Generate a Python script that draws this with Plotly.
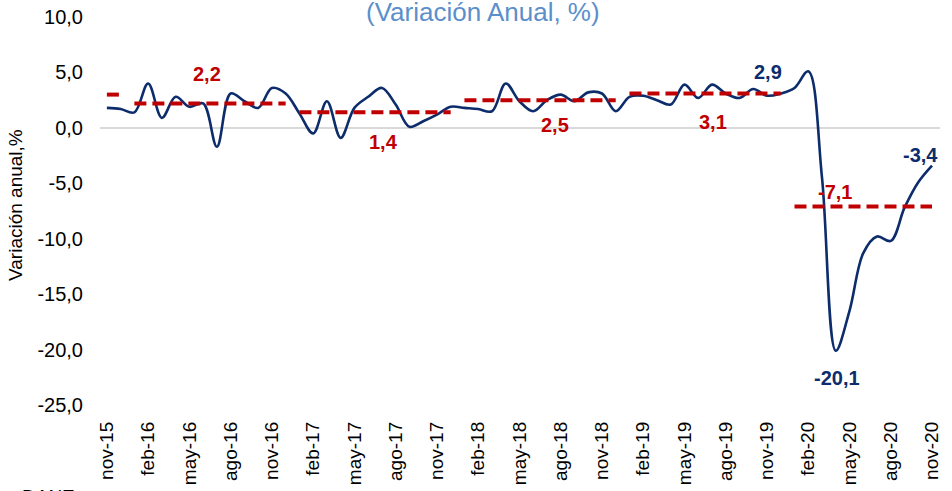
import plotly.graph_objects as go

months = ["nov-15", "dic-15",
          "ene-16", "feb-16", "mar-16", "abr-16", "may-16", "jun-16", "jul-16", "ago-16", "sep-16", "oct-16", "nov-16", "dic-16",
          "ene-17", "feb-17", "mar-17", "abr-17", "may-17", "jun-17", "jul-17", "ago-17", "sep-17", "oct-17", "nov-17", "dic-17",
          "ene-18", "feb-18", "mar-18", "abr-18", "may-18", "jun-18", "jul-18", "ago-18", "sep-18", "oct-18", "nov-18", "dic-18",
          "ene-19", "feb-19", "mar-19", "abr-19", "may-19", "jun-19", "jul-19", "ago-19", "sep-19", "oct-19", "nov-19", "dic-19",
          "ene-20", "feb-20", "mar-20", "abr-20", "may-20", "jun-20", "jul-20", "ago-20", "sep-20", "oct-20", "nov-20"]

variacion = [1.8, 1.7,
             1.4, 4.0, 0.9, 2.8, 1.9, 2.2, -1.7, 3.1, 2.4, 1.8, 3.6, 3.1,
             1.3, -0.5, 2.4, -0.9, 1.8, 2.8, 3.6, 2.1, 0.1, 0.6, 1.2, 1.9,
             1.8, 1.7, 1.5, 4.0, 2.4, 1.5, 2.5, 3.0, 2.4, 3.2, 3.1, 1.5,
             2.8, 2.9, 2.5, 2.1, 3.9, 2.7, 3.9, 3.1, 2.7, 3.5, 2.9, 3.1,
             3.6, 5.1, -4.5, -20.1, -16.5, -11.3, -9.8, -10.2, -7.2, -4.9, -3.4]

# annual averages: (start month, end month, value)
prom_inicio = ["nov-15", "ene-16", "ene-17", "ene-18", "ene-19", "ene-20"]
prom_fin = ["dic-15", "dic-16", "dic-17", "dic-18", "dic-19", "nov-20"]
prom_valor = [3.0, 2.2, 1.4, 2.5, 3.1, -7.1]

tick_labels = months[::3]
y_tick_vals = [-25, -20, -15, -10, -5, 0, 5, 10]
y_tick_text = ["-25,0", "-20,0", "-15,0", "-10,0", "-5,0", "0,0", "5,0", "10,0"]

BLUE = "#0C2C6B"
RED = "#C00000"
FONT = "Liberation Sans, Arial, sans-serif"

fig = go.Figure()

fig.add_trace(go.Scatter(x=months, y=variacion, mode="lines",
                         line=dict(color=BLUE, width=2.6, shape="spline", smoothing=1.0),
                         showlegend=False))

for s, e, v in zip(prom_inicio, prom_fin, prom_valor):
    fig.add_trace(go.Scatter(x=[s, e], y=[v, v], mode="lines",
                             line=dict(color=RED, width=4, dash="12px,6px"),
                             showlegend=False, hoverinfo="skip"))

# red average labels
red_pos = {"2,2": (7.3, 4.87), "1,4": (20.1, -1.24), "2,5": (32.6, 0.27),
           "3,1": (44.05, 0.57), "-7,1": (52.95, -5.75)}
for txt, (xx, yy) in red_pos.items():
    fig.add_annotation(x=xx, y=yy, text="<b>%s</b>" % txt, showarrow=False,
                       font=dict(color=RED, size=20, family=FONT))

blue_pos = {"2,9": (48.1, 5.08), "-20,1": (53.07, -22.6), "-3,4": (59.13, -2.44)}
for txt, (xx, yy) in blue_pos.items():
    fig.add_annotation(x=xx, y=yy, text="<b>%s</b>" % txt, showarrow=False,
                       font=dict(color=BLUE, size=20, family=FONT))

W, H = 952, 491
L, R, T, B = 100, 12, 17, 86
pw, ph = W - L - R, H - T - B

def px_to_paper(px, py):
    return (px - L) / pw, (H - B - py) / ph

tx, ty = px_to_paper(483, 12)
fig.add_annotation(xref="paper", yref="paper", x=tx, y=ty, text="(Variación Anual, %)",
                   showarrow=False, font=dict(color="#5B8FCB", size=26, family=FONT),
                   xanchor="center", yanchor="middle")

ax_, ay_ = px_to_paper(15, 205)
fig.add_annotation(xref="paper", yref="paper", x=ax_, y=ay_, text="Variación anual,%",
                   textangle=-90, showarrow=False, font=dict(color="#000000", size=19, family=FONT),
                   xanchor="center", yanchor="middle")

dx, dy = px_to_paper(20, 484)
fig.add_annotation(xref="paper", yref="paper", x=dx, y=dy, text="DANE",
                   showarrow=False, font=dict(color="#000000", size=19, family=FONT),
                   xanchor="left", yanchor="top")

fig.update_layout(
    width=W, height=H,
    margin=dict(l=L, r=R, t=T, b=B),
    paper_bgcolor="white", plot_bgcolor="white",
    font=dict(family=FONT, color="#000000"),
    xaxis=dict(type="category", categoryorder="array", categoryarray=months,
               range=[-0.5, 60.58], tickvals=tick_labels, ticktext=tick_labels,
               tickangle=-90, tickfont=dict(size=19), showgrid=False, zeroline=False,
               showline=False, ticks="", ticklabelstandoff=12, automargin=False),
    yaxis=dict(range=[-25, 10], tickvals=y_tick_vals, ticktext=y_tick_text,
               tickfont=dict(size=20), showgrid=False, zeroline=True, zerolinecolor="#D9D9D9",
               zerolinewidth=1.5, showline=False, ticks="", ticklabelstandoff=16, automargin=False),
)

fig.write_html("out.html", config={"displayModeBar": False},
               post_script="document.body.style.margin='0';document.body.style.overflow='hidden';")
